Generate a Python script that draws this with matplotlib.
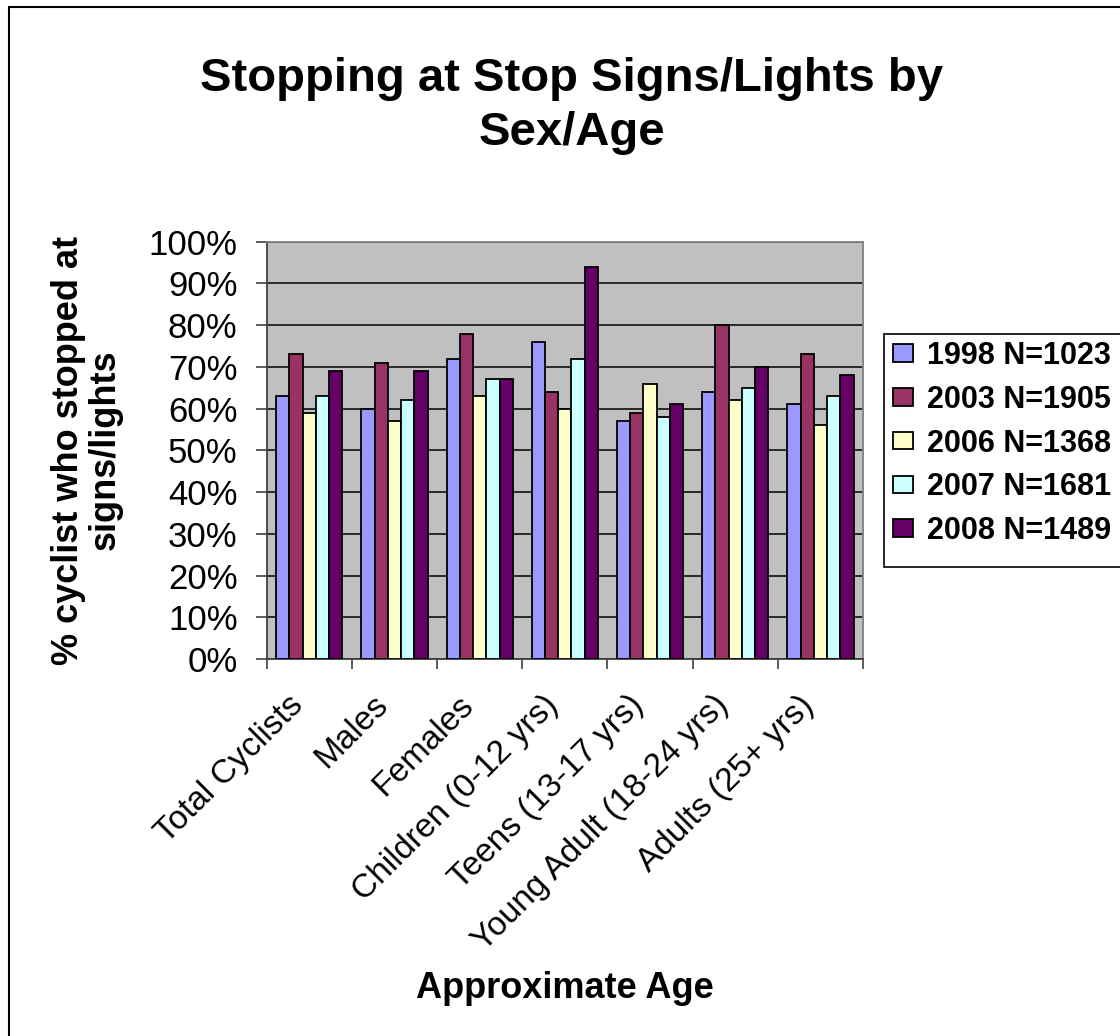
import matplotlib
matplotlib.use("Agg")
import matplotlib.pyplot as plt
import matplotlib.patches as mpatches
import matplotlib.transforms as mtransforms
import numpy as np

plt.rcParams['font.family'] = ['Liberation Sans', 'DejaVu Sans']

categories = ["Total Cyclists", "Males", "Females", "Children (0-12 yrs)",
              "Teens (13-17 yrs)", "Young Adult (18-24 yrs)", "Adults (25+ yrs)"]
series_names = ["1998 N=1023", "2003 N=1905", "2006 N=1368", "2007 N=1681", "2008 N=1489"]
v1998 = [63, 60, 72, 76, 57, 64, 61]
v2003 = [73, 71, 78, 64, 59, 80, 73]
v2006 = [59, 57, 63, 60, 66, 62, 56]
v2007 = [63, 62, 67, 72, 58, 65, 63]
v2008 = [69, 69, 67, 94, 61, 70, 68]
yticks = [0, 10, 20, 30, 40, 50, 60, 70, 80, 90, 100]
ytick_labels = [f"{t}%" for t in yticks]
colors = ["#9999FF", "#993366", "#FFFFCC", "#CCFFFF", "#660066"]

W, H = 1120, 1036
fig = plt.figure(figsize=(W / 100, H / 100), dpi=100)
fig.patch.set_facecolor("white")

ax_l, ax_r, ax_t, ax_b = 266.7, 863, 241.7, 659
ax = fig.add_axes([ax_l / W, 1 - ax_b / H, (ax_r - ax_l) / W, (ax_b - ax_t) / H])
ax.set_facecolor("#C0C0C0")

data = [v1998, v2003, v2006, v2007, v2008]
x = np.arange(len(categories))
bw = 0.1556
for i, (vals, c) in enumerate(zip(data, colors)):
    ax.bar(x + (i - 2) * bw, vals, width=bw, color=c, edgecolor="black",
           linewidth=1.3, label=series_names[i], zorder=3)

ax.set_xlim(-0.5, len(categories) - 0.5)
ax.set_ylim(0, 100)
ax.set_yticks(yticks)
ax.set_yticklabels(ytick_labels, fontsize=25)
ax.yaxis.grid(True, color="black", linewidth=1.1, zorder=1)
ax.set_axisbelow(True)
ax.tick_params(axis="y", direction="out", length=8, width=1.2, color="#404040", pad=13)

ax.set_xticks(x)
ax.set_xticklabels(categories, fontsize=24, rotation=45, ha="right",
                   rotation_mode="anchor")
ax.tick_params(axis="x", which="major", length=0, pad=22)
shift = mtransforms.ScaledTranslation(-22 / 100, 0, fig.dpi_scale_trans)
for lab in ax.get_xticklabels():
    lab.set_transform(lab.get_transform() + shift)
ax.set_xticks(np.arange(-0.5, len(categories), 1), minor=True)
ax.tick_params(axis="x", which="minor", direction="out", length=7, width=1.2, color="#404040")

for s in ["left", "bottom"]:
    ax.spines[s].set_color("#404040")
    ax.spines[s].set_linewidth(1.3)
for s in ["top", "right"]:
    ax.spines[s].set_color("#808080")
    ax.spines[s].set_linewidth(1.3)

fig.text(572 / W, 1 - 106 / H, "Stopping at Stop Signs/Lights by\nSex/Age",
         fontsize=34, fontweight="bold", ha="center", va="center", linespacing=1.32)
fig.text(87 / W, 1 - 450 / H, "% cyclist who stopped at\nsigns/lights",
         fontsize=26, fontweight="bold", ha="center", va="center", rotation=90,
         multialignment="center", linespacing=1.05)
fig.text(565 / W, 1 - 988 / H, "Approximate Age", fontsize=26, fontweight="bold",
         ha="center", va="center")

# legend box drawn separately (extends past the right edge as in the original)
legbox = mpatches.Rectangle((884 / W, 1 - 567 / H), 0.3, (567 - 334) / H,
                            transform=fig.transFigure, facecolor="white",
                            edgecolor="black", linewidth=1.2, zorder=1)
fig.patches.append(legbox)
leg = fig.legend(loc="upper left", bbox_to_anchor=(893 / W, 1 - 341 / H),
                 prop={"weight": "bold", "size": 22}, frameon=False,
                 handlelength=0.65, handleheight=0.5, handletextpad=0.45,
                 labelspacing=0.45, borderpad=0.0, borderaxespad=0)
leg.set_zorder(5)

frame = mpatches.Rectangle((9 / W, -0.1), 1.2, 1.1 - 7.5 / H, transform=fig.transFigure,
                           fill=False, edgecolor="black", linewidth=1.5)
fig.patches.append(frame)

fig.savefig("out.png", dpi=100)
